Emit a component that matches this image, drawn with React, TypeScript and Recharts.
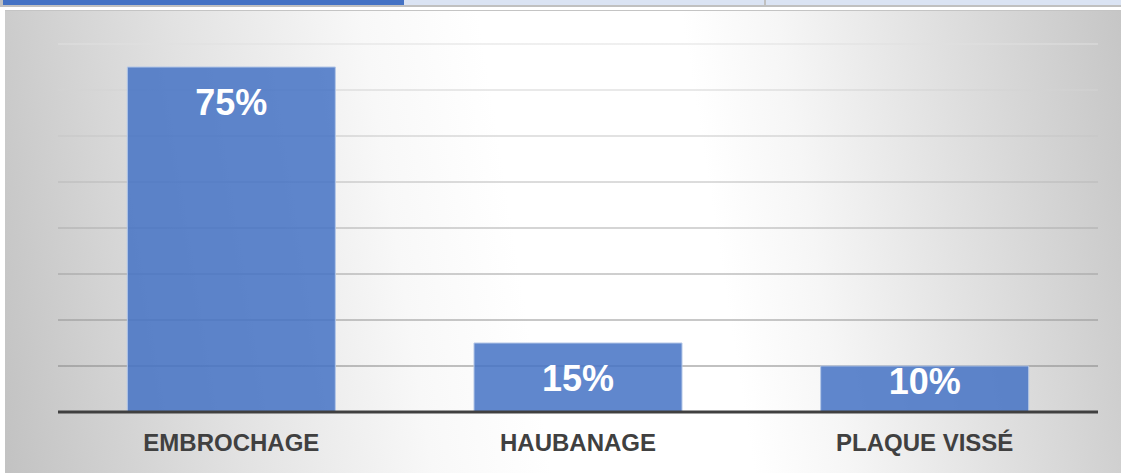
import React from "react";
import { BarChart, Bar, XAxis, YAxis, CartesianGrid, LabelList } from "recharts";

const categories = ["EMBROCHAGE", "HAUBANAGE", "PLAQUE VISSÉ"];
const values = [75, 15, 10];
const yTicks = [0, 10, 20, 30, 40, 50, 60, 70, 80];

const data = categories.map((c, i) => ({ name: c, value: values[i] }));

const FONT = "'Liberation Sans', Arial, sans-serif";

const ValueLabel = (props: any) => {
  const { x, y, width, height, value } = props;
  const cx = x + width / 2;
  const cy = Math.min(y + 35, y + height - 31);
  return (
    <text
      x={cx}
      y={cy}
      textAnchor="middle"
      dominantBaseline="central"
      fill="#ffffff"
      fontFamily={FONT}
      fontWeight="bold"
      fontSize={36}
    >
      {value}%
    </text>
  );
};

const CatTick = (props: any) => {
  const { x, y, payload } = props;
  return (
    <text
      x={x}
      y={y + 30}
      textAnchor="middle"
      dominantBaseline="central"
      fill="#404040"
      fontFamily={FONT}
      fontWeight="bold"
      fontSize={24}
    >
      {payload.value}
    </text>
  );
};

export default function App() {
  return (
    <div style={{ position: "absolute", left: 0, top: 0, width: 1121, height: 473, background: "#ffffff", overflow: "hidden" }}>
      {/* top tab strip */}
      <div style={{ position: "absolute", left: 0, top: 0, width: 1121, height: 7, background: "#c0c0c0" }} />
      <div style={{ position: "absolute", left: 3, top: 0, width: 401, height: 5, background: "#4472c4" }} />
      <div style={{ position: "absolute", left: 404, top: 0, width: 360, height: 5, background: "#dae3f3" }} />
      <div style={{ position: "absolute", left: 766, top: 0, width: 355, height: 5, background: "#dae3f3" }} />
      {/* chart panel */}
      <div
        style={{
          position: "absolute",
          left: 5,
          top: 10,
          width: 1116,
          height: 463,
          borderTop: "1px solid #c4c4c4",
          boxSizing: "border-box",
          background:
            "linear-gradient(81deg, #c2c2c2 0%, #e2e2e2 20%, #f8f8f8 36%, #ffffff 46%, #ffffff 63%, #f6f6f6 71%, #dddddd 86%, #c6c6c6 100%)",
        }}
      />
      <div style={{ position: "absolute", left: 0, top: 0 }}>
        <BarChart
          width={1121}
          height={473}
          data={data}
          margin={{ top: 44, right: 23, left: 58, bottom: 0 }}
          barCategoryGap="20%"
        >
          <defs>
            <linearGradient id="gridGrad" gradientUnits="userSpaceOnUse" x1="0" y1="44" x2="0" y2="412">
              <stop offset="0%" stopColor="#e0e0e0" />
              <stop offset="100%" stopColor="#777777" />
            </linearGradient>
          </defs>
          <CartesianGrid vertical={false} stroke="url(#gridGrad)" strokeWidth={1.2} />
          <YAxis hide domain={[0, 80]} ticks={yTicks} />
          <Bar
            dataKey="value"
            fill="#4472c4"
            fillOpacity={0.85}
            stroke="#b4c7e7"
            strokeWidth={1}
            isAnimationActive={false}
          >
            <LabelList dataKey="value" content={<ValueLabel />} />
          </Bar>
          <XAxis
            dataKey="name"
            height={61}
            axisLine={{ stroke: "#404040", strokeWidth: 3 }}
            tickLine={false}
            tickSize={0}
            tickMargin={0}
            tick={<CatTick />}
            interval={0}
          />
        </BarChart>
      </div>
    </div>
  );
}
